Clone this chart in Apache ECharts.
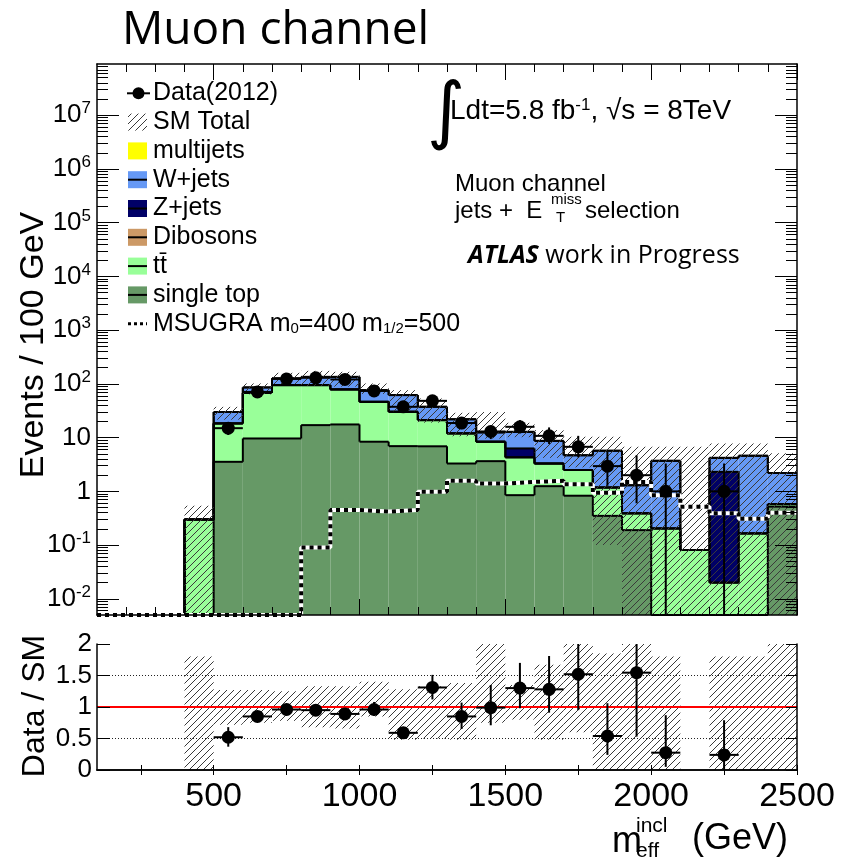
<!DOCTYPE html>
<html>
<head>
<meta charset="utf-8">
<script src="https://cdn.jsdelivr.net/npm/echarts@6.0.0/dist/echarts.min.js"></script>
<style>
html,body{margin:0;padding:0;background:#fff;}
#chart{width:860px;height:866px;}
</style>
</head>
<body>
<div id="chart"></div>
<script>
// ---------------- data ----------------
const BIN_W = 100;
const binLow = [100,200,300,400,500,600,700,800,900,1000,1100,1200,1300,1400,1500,1600,1700,1800,1900,2000,2100,2200,2300,2400];
const singleTop = [0,0,0,0,3.55,9.65,9.65,17.1,17.6,8.4,6.95,6.9,3.3,3.65,0.85,1.25,0.83,0.35,0.19,0,0,0,0,0.52];
const ttbar     = [0,0,0,0.30,14.85,58.35,85.35,77.9,61.4,38.0,23.35,14.3,8.7,4.75,3.45,2.05,1.67,0.83,0.20,0.204,0.081,0.020,0.165,0.06];
const dibosons  = [0,0,0,0,0,0,0,0,0,0,0,0,0,0,0,0,0,0,0,0,0,0,0,0];
const zjets     = [0,0,0,0,0,0,0,0,0,0,0,0,0,0,2.0,0,0,0,0,0,0,2.29,0,0];
const wjets     = [0,0,0,0,11.6,18,32,40,56,30.1,31.7,16.3,10,4.0,6.5,5.4,2.2,4.52,0.91,3.5,0,1.89,4.435,1.62];
const multijets = [0,0,0,0,0,0,0,0,0,0,0,0,0,0.4,0,0,0,0,0,0,0,0,0,0];
const msugra    = [0,0,0,0,0,0,0,0.09,0.45,0.42,0.45,0.98,1.57,1.4,1.5,1.57,1.36,0.94,1.5,0.85,0.52,0.39,0.31,0.40];
const smBandLow  = [null,null,null,0,21.6,64,99,92,89,65,31,19,10.6,9.6,10.2,4.2,2.8,0.1,0,0,0,0,0,0];
const smBandHigh = [null,null,null,0.54,37.4,102,161,175,168,102,76.5,53.6,29,30,18.9,13.8,10.4,10.4,6.75,6.75,6.75,7.8,7.8,5.1];
const dataVal  = [null,null,null,null,15,71,124,130,121,74,37.5,48.4,18.7,13.0,15.9,10.8,6.75,2.95,2.0,1.0,null,1.0,null,null];
const dataLow  = [null,null,null,null,11.2,62.6,113,118.6,110,65.4,31.4,41.4,14.4,9.4,12,7.6,4.3,1.27,0.6,0,null,0,null,null];
const dataHigh = [null,null,null,null,19,79.4,135,141.4,132,82.6,43.6,55.4,23,16.4,21.2,15.5,10.8,5.45,4.7,3.3,null,3.3,null,null];
const ratioVal  = [null,null,null,null,0.52,0.85,0.96,0.95,0.89,0.96,0.59,1.31,0.85,0.99,1.30,1.28,1.52,0.54,1.545,0.275,null,0.24,null,null];
const ratioLow  = [null,null,null,null,0.37,0.76,0.88,0.87,0.81,0.86,0.53,1.12,0.65,0.71,0.98,0.91,0.95,0.24,0.53,0.05,null,0,null,null];
const ratioHigh = [null,null,null,null,0.68,0.93,1.04,1.03,0.97,1.08,0.65,1.51,1.07,1.35,1.70,1.81,2.1,1.06,2.5,0.87,null,0.79,null,null];
const ratioBandLow  = [null,null,null,0,0.72,0.75,0.78,0.68,0.66,0.85,0.48,0.5,0.48,0.75,0.8,0.48,0.6,0,0,0,null,0,0,0];
const ratioBandHigh = [null,null,null,1.8,1.27,1.27,1.25,1.33,1.33,1.40,1.28,1.33,1.38,2.4,1.35,1.67,2.2,1.85,3.4,1.8,null,1.8,1.8,2.5];
const ratioRef = 1;
const ratioGrid = [0.5, 1.5];

// axis ticks / labels
const X_MIN = 100, X_MAX = 2500;
const Y_MIN = 0.005, Y_MAX = 9e7;
const R_MIN = 0, R_MAX = 2;
const xMajor = [500,1000,1500,2000,2500];
const xMinor = [200,300,400,600,700,800,900,1100,1200,1300,1400,1600,1700,1800,1900,2100,2200,2300,2400];
const ratioXTicks = [250,500,750,1000,1250,1500,1750,2000,2250,2500];
const ratioXLabels = [500,1000,1500,2000,2500];
const ratioYTicks = [0,0.5,1,1.5,2];
const yDecades = [0.01,0.1,1,10,100,1000,1e4,1e5,1e6,1e7];
const yMinor = [];
for (let e = -3; e <= 7; e++) for (let m = 2; m <= 9; m++) { const v = m * Math.pow(10, e); if (v > Y_MIN && v < Y_MAX) yMinor.push(v); }

const COLORS = {singleTop:'#669966', ttbar:'#99ff99', dibosons:'#cc9966', zjets:'#000066', wjets:'#6699f5', multijets:'#ffff00'};
const FONT = 'Liberation Sans';

// ---------------- helpers ----------------
function hatchCanvas(color) {
  const s = 7, c = document.createElement('canvas');
  c.width = s; c.height = s;
  const g = c.getContext('2d');
  g.strokeStyle = color; g.lineWidth = 1;
  g.beginPath();
  for (const o of [-s, 0, s]) { g.moveTo(o, s); g.lineTo(o + s, 0); }
  g.stroke();
  return c;
}
const HATCH = {image: hatchCanvas('#3a3a3a'), repeat: 'repeat'};
const clampY = v => Math.min(Y_MAX, Math.max(Y_MIN, (v == null || isNaN(v)) ? 0 : v));
const clampR = v => Math.min(R_MAX, Math.max(R_MIN, (v == null || isNaN(v)) ? 0 : v));

// stacking (bottom -> top)
const stackDefs = [
  ['single top', singleTop, COLORS.singleTop],
  ['ttbar', ttbar, COLORS.ttbar],
  ['Dibosons', dibosons, COLORS.dibosons],
  ['Z+jets', zjets, COLORS.zjets],
  ['W+jets', wjets, COLORS.wjets],
  ['multijets', multijets, COLORS.multijets]
];
let cum = binLow.map(() => 0);
const stackSeries = stackDefs.map(([name, vals, color]) => {
  const low = cum.slice();
  const high = cum.map((c, i) => c + vals[i]);
  cum = high;
  const data = binLow.map((x, i) => [x, x + BIN_W, low[i], high[i], i > 0 ? high[i - 1] : 0]);
  return {
    type: 'custom', name, xAxisIndex: 0, yAxisIndex: 0, z: 2, silent: true,
    encode: {x: [0, 1], y: [2, 3]},
    data,
    renderItem(params, api) {
      const x0 = api.value(0), x1 = api.value(1);
      const lo = clampY(api.value(2)), hi = clampY(api.value(3)), prev = clampY(api.value(4));
      const pLo = api.coord([x0, lo]), pHi = api.coord([x1, hi]), pPrev = api.coord([x0, prev]);
      const ch = [];
      if (hi > lo) ch.push({type: 'rect', z2: 0, shape: {x: pLo[0], y: pHi[1], width: pHi[0] - pLo[0], height: pLo[1] - pHi[1]}, style: {fill: color}});
      ch.push({type: 'line', z2: 10, shape: {x1: pLo[0], y1: pHi[1], x2: pHi[0], y2: pHi[1]}, style: {stroke: '#000', lineWidth: 2}});
      if (prev !== hi) ch.push({type: 'line', z2: 10, shape: {x1: pLo[0], y1: pPrev[1], x2: pLo[0], y2: pHi[1]}, style: {stroke: '#000', lineWidth: 2}});
      return {type: 'group', children: ch};
    }
  };
});

function bandSeries(xi, yi, lows, highs, clamp, z) {
  const data = [];
  binLow.forEach((x, i) => { if (highs[i] != null) data.push([x, x + BIN_W, lows[i], highs[i]]); });
  return {
    type: 'custom', xAxisIndex: xi, yAxisIndex: yi, z, silent: true,
    encode: {x: [0, 1], y: [2, 3]}, data,
    renderItem(params, api) {
      const a = api.coord([api.value(0), clamp(api.value(2))]);
      const b = api.coord([api.value(1), clamp(api.value(3))]);
      return {type: 'rect', shape: {x: a[0], y: b[1], width: b[0] - a[0], height: a[1] - b[1]}, style: {fill: HATCH, stroke: null}};
    }
  };
}

function pointSeries(xi, yi, vals, lows, highs, clamp) {
  const data = [];
  binLow.forEach((x, i) => { if (vals[i] != null) data.push([x + BIN_W / 2, vals[i], lows[i], highs[i]]); });
  return {
    type: 'custom', xAxisIndex: xi, yAxisIndex: yi, z: 8, silent: true,
    encode: {x: 0, y: 1}, data,
    renderItem(params, api) {
      const cx = api.value(0), v = clamp(api.value(1));
      const c = api.coord([cx, v]);
      const l = api.coord([cx - BIN_W / 2, v]), r = api.coord([cx + BIN_W / 2, v]);
      const b = api.coord([cx, clamp(api.value(2))]), t = api.coord([cx, clamp(api.value(3))]);
      return {type: 'group', children: [
        {type: 'line', shape: {x1: l[0], y1: c[1], x2: r[0], y2: c[1]}, style: {stroke: '#000', lineWidth: 2}},
        {type: 'line', shape: {x1: c[0], y1: b[1], x2: c[0], y2: t[1]}, style: {stroke: '#000', lineWidth: 2}},
        {type: 'circle', shape: {cx: c[0], cy: c[1], r: 6.5}, style: {fill: '#000'}}
      ]};
    }
  };
}

const msugraData = binLow.map((x, i) => [x, clampY(msugra[i])]).concat([[X_MAX, clampY(msugra[msugra.length - 1])]]);

// ---------------- axes ----------------
function xAx(grid, pos, extra) {
  return Object.assign({type: 'value', gridIndex: grid, position: pos, min: X_MIN, max: X_MAX, z: 20,
    axisLine: {show: false, lineStyle: {color: '#000', width: 1.5}},
    axisTick: {show: false}, axisLabel: {show: false}, splitLine: {show: false}}, extra);
}
function yLog(pos, extra) {
  return Object.assign({type: 'log', logBase: 10, gridIndex: 0, position: pos, min: Y_MIN, max: Y_MAX, z: 20,
    axisLine: {show: false, lineStyle: {color: '#000', width: 1.5}},
    axisTick: {show: false}, axisLabel: {show: false}, splitLine: {show: false}, minorTick: {show: false}}, extra);
}
function yRat(pos, extra) {
  return Object.assign({type: 'value', gridIndex: 1, position: pos, min: R_MIN, max: R_MAX, z: 20,
    axisLine: {show: true, lineStyle: {color: '#000', width: 1.5}},
    axisTick: {show: false}, axisLabel: {show: false}, splitLine: {show: false}}, extra);
}
const tick = (vals, len) => ({show: true, inside: true, length: len, customValues: vals, lineStyle: {color: '#000', width: 1}});
function logLabel(v) {
  const e = Math.round(Math.log10(v));
  if (e === 0) return '1';
  if (e === 1) return '10';
  return '10{sup|' + e + '}';
}

// ---------------- graphics (titles, legend, labels) ----------------
function T(x, y, text, font, extra) {
  const ex = extra || {};
  const st = ex.style || {};
  const rest = Object.assign({}, ex);
  delete rest.style;
  return Object.assign({type: 'text', x, y, silent: true, z: 100,
    style: Object.assign({text, font, fill: '#000', align: 'left', textAlign: 'left', verticalAlign: 'middle', textVerticalAlign: 'middle'}, st)}, rest);
}
const LEG_X = 128, LEG_TX = 153, LEG_Y0 = 93.3, LEG_DY = 28.8, LEG_W = 19, LEG_H = 17;
const legendDefs = [
  {label: 'Data(2012)', kind: 'data'},
  {label: 'SM Total', kind: 'hatch'},
  {label: 'multijets', kind: 'box', color: COLORS.multijets, line: false},
  {label: 'W+jets', kind: 'box', color: COLORS.wjets, line: true},
  {label: 'Z+jets', kind: 'box', color: COLORS.zjets, line: true},
  {label: 'Dibosons', kind: 'box', color: COLORS.dibosons, line: true},
  {label: 'tt\u0304', kind: 'box', color: COLORS.ttbar, line: true},
  {label: 'single top', kind: 'box', color: COLORS.singleTop, line: true},
  {label: 'MSUGRA m{sub|0}=400 m{sub|1/2}=500', kind: 'dash'}
];
const graphics = [];
legendDefs.forEach((d, i) => {
  const y = LEG_Y0 + i * LEG_DY;
  if (d.kind === 'data') {
    graphics.push({type: 'line', silent: true, shape: {x1: LEG_X - 1, y1: y, x2: LEG_X + LEG_W + 3, y2: y}, style: {stroke: '#000', lineWidth: 2}});
    graphics.push({type: 'circle', silent: true, shape: {cx: LEG_X + LEG_W / 2 + 1, cy: y, r: 6}, style: {fill: '#000'}});
  } else if (d.kind === 'hatch') {
    graphics.push({type: 'rect', silent: true, shape: {x: LEG_X, y: y - LEG_H / 2, width: LEG_W, height: LEG_H}, style: {fill: HATCH}});
  } else if (d.kind === 'box') {
    graphics.push({type: 'rect', silent: true, shape: {x: LEG_X, y: y - LEG_H / 2, width: LEG_W, height: LEG_H}, style: {fill: d.color}});
    if (d.line) graphics.push({type: 'line', silent: true, shape: {x1: LEG_X, y1: y, x2: LEG_X + LEG_W, y2: y}, style: {stroke: '#000', lineWidth: 2}});
  } else {
    graphics.push({type: 'line', silent: true, shape: {x1: LEG_X, y1: y, x2: LEG_X + LEG_W, y2: y}, style: {stroke: '#000', lineWidth: 3, lineDash: [3, 3]}});
  }
  graphics.push(T(LEG_TX, y, d.label, '25px "' + FONT + '"', {style: {rich: {sub: {fontSize: 15, fontFamily: FONT, verticalAlign: 'bottom', lineHeight: 14}}}}));
});

graphics.push(T(122, 31, 'Muon channel', '46px "Open Sans"'));
graphics.push(T(427, 116, '\u222B', '74px "DejaVu Sans"'));
graphics.push(T(450, 111, 'Ldt=5.8 fb{sup|-1}, \u221As = 8TeV', '28px "' + FONT + '"',
  {style: {rich: {sup: {fontSize: 17, fontFamily: FONT, verticalAlign: 'top', lineHeight: 17}}}}));
graphics.push(T(455, 184, 'Muon channel', '24px "' + FONT + '"'));
graphics.push(T(455, 211, 'jets +  E', '24px "' + FONT + '"'));
graphics.push(T(551, 200, 'miss', '15px "' + FONT + '"'));
graphics.push(T(556, 218, 'T', '15px "' + FONT + '"'));
graphics.push(T(585, 211, 'selection', '24px "' + FONT + '"'));
graphics.push(T(468, 256, '{b|ATLAS} work in Progress', '25px "Open Sans"',
  {style: {rich: {b: {fontSize: 25, fontFamily: 'Open Sans', fontWeight: 'bold', fontStyle: 'italic'}}}}));
graphics.push(T(34, 345, 'Events / 100 GeV', '34px "' + FONT + '"', {rotation: Math.PI / 2, style: {align: 'center', textAlign: 'center'}}));
graphics.push(T(35, 706, 'Data / SM', '32px "' + FONT + '"', {rotation: Math.PI / 2, style: {align: 'center', textAlign: 'center'}}));
graphics.push(T(612, 842, 'm', '36px "' + FONT + '"'));
graphics.push(T(636, 826, 'incl', '21px "' + FONT + '"'));
graphics.push(T(636, 851, 'eff', '21px "' + FONT + '"'));
graphics.push(T(692, 839, '(GeV)', '36px "' + FONT + '"'));

// ---------------- option ----------------
const option = {
  animation: false,
  backgroundColor: '#fff',
  textStyle: {fontFamily: FONT},
  grid: [
    {left: 97, top: 64, width: 700, height: 551, containLabel: false, outerBoundsMode: 'none'},
    {left: 97, top: 644, width: 700, height: 126, containLabel: false, outerBoundsMode: 'none'}
  ],
  xAxis: [
    xAx(0, 'bottom', {axisLine: {show: true, lineStyle: {color: '#000', width: 1.5}}, axisTick: tick(xMinor, 8)}),
    xAx(0, 'bottom', {axisTick: tick(xMajor, 16)}),
    xAx(0, 'top', {axisLine: {show: true, lineStyle: {color: '#000', width: 1.5}}, axisTick: tick(xMinor, 8)}),
    xAx(0, 'top', {axisTick: tick(xMajor, 16)}),
    xAx(1, 'bottom', {axisLine: {show: true, lineStyle: {color: '#000', width: 1.5}}, axisTick: tick(ratioXTicks, 5),
      axisLabel: {show: true, customValues: ratioXLabels, formatter: v => String(v), fontSize: 34, color: '#000', margin: 10, fontFamily: FONT}}),
    xAx(1, 'top', {axisLine: {show: true, lineStyle: {color: '#000', width: 1.5}}, axisTick: tick(ratioXTicks, 5)})
  ],
  yAxis: [
    yLog('left', {axisLine: {show: true, lineStyle: {color: '#000', width: 1.5}}, axisTick: tick(yDecades, 22),
      axisLabel: {show: true, customValues: yDecades, formatter: logLabel, fontSize: 26, color: '#000', margin: 6, fontFamily: FONT, lineHeight: 30,
        rich: {sup: {fontSize: 17, fontFamily: FONT, verticalAlign: 'top', lineHeight: 17, color: '#000'}}}}),
    yLog('left', {axisTick: tick(yMinor, 11)}),
    yLog('right', {axisLine: {show: true, lineStyle: {color: '#000', width: 1.5}}, axisTick: tick(yDecades, 22)}),
    yLog('right', {axisTick: tick(yMinor, 11)}),
    yRat('left', {axisTick: tick(ratioYTicks, 13),
      axisLabel: {show: true, customValues: ratioYTicks, formatter: v => String(v), fontSize: 26, color: '#000', margin: 5, fontFamily: FONT}}),
    yRat('right', {axisTick: tick(ratioYTicks, 11)})
  ],
  series: [
    ...stackSeries,
    bandSeries(0, 0, smBandLow, smBandHigh, clampY, 4),
    {type: 'line', xAxisIndex: 0, yAxisIndex: 0, z: 5, step: 'end', symbol: 'none', silent: true, data: msugraData,
      lineStyle: {color: '#fff', width: 4}},
    {type: 'line', xAxisIndex: 0, yAxisIndex: 0, z: 6, step: 'end', symbol: 'none', silent: true, data: msugraData,
      lineStyle: {color: '#000', width: 4, type: [4, 4], cap: 'butt'}},
    pointSeries(0, 0, dataVal, dataLow, dataHigh, clampY),
    bandSeries(4, 4, ratioBandLow, ratioBandHigh, clampR, 2),
    ...ratioGrid.map(g => ({type: 'line', xAxisIndex: 4, yAxisIndex: 4, z: 3, symbol: 'none', silent: true,
      data: [[X_MIN, g], [X_MAX, g]], lineStyle: {color: '#222', width: 1, type: [1, 2]}})),
    {type: 'line', xAxisIndex: 4, yAxisIndex: 4, z: 5, symbol: 'none', silent: true,
      data: [[X_MIN, ratioRef], [X_MAX, ratioRef]], lineStyle: {color: '#ff0000', width: 2}},
    pointSeries(4, 4, ratioVal, ratioLow, ratioHigh, clampR)
  ],
  graphic: {elements: graphics}
};

const chart = echarts.init(document.getElementById('chart'), null, {renderer: 'canvas'});
chart.setOption(option);
</script>
</body>
</html>
